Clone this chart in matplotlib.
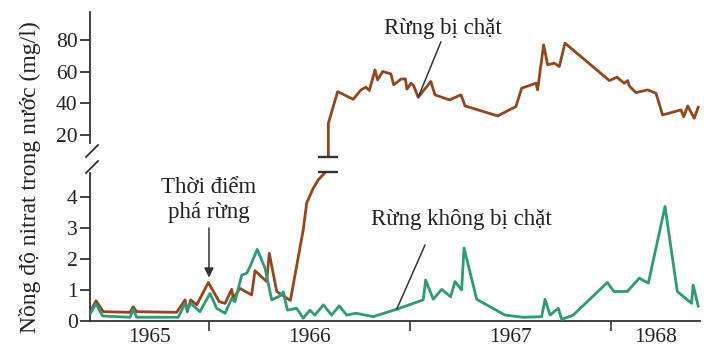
import matplotlib
matplotlib.use("Agg")
import matplotlib.pyplot as plt
from matplotlib.ticker import FixedLocator, NullFormatter, FixedFormatter

plt.rcParams['font.family'] = ['Liberation Serif', 'DejaVu Serif']

# Rừng bị chặt (deforested watershed): decimal year, nitrate mg/l
cut_x = [1965.405, 1965.438, 1965.474, 1965.607, 1965.623, 1965.640, 1965.839,
         1965.881, 1965.892, 1965.909, 1965.939, 1965.997, 1966.051, 1966.080,
         1966.113, 1966.121, 1966.154, 1966.212, 1966.229, 1966.287, 1966.300,
         1966.337, 1966.405, 1966.469, 1966.486, 1966.519, 1966.544, 1966.594,
         1966.594, 1966.640, 1966.718, 1966.756, 1966.781, 1966.798, 1966.826,
         1966.839, 1966.864, 1966.905, 1966.919, 1966.955, 1966.977, 1966.985,
         1967.005, 1967.018, 1967.041, 1967.104, 1967.124, 1967.196, 1967.254,
         1967.274, 1967.436, 1967.527, 1967.556, 1967.627, 1967.635, 1967.665,
         1967.685, 1967.718, 1967.743, 1967.771, 1967.992, 1968.030, 1968.066,
         1968.083, 1968.091, 1968.124, 1968.183, 1968.224, 1968.257, 1968.348,
         1968.362, 1968.382, 1968.414, 1968.434]
cut_y = [0.25, 0.65, 0.30, 0.28, 0.46, 0.30, 0.28,
         0.68, 0.30, 0.68, 0.52, 1.24, 0.62, 0.57,
         1.02, 0.73, 1.05, 0.84, 1.62, 1.27, 2.18,
         0.95, 0.66, 2.94, 3.80, 4.28, 4.55, 4.90,
         27.4, 47.3, 42.5, 48.4, 50.1, 48.0, 61.0,
         54.7, 60.0, 58.5, 51.6, 55.2, 55.4, 48.9,
         52.6, 51.1, 43.8, 53.7, 45.3, 42.1, 45.3,
         38.3, 32.0, 37.9, 49.5, 52.6, 48.4, 76.8,
         64.2, 65.3, 63.1, 77.9, 54.3, 56.4, 52.6,
         54.3, 50.9, 46.7, 48.4, 46.3, 32.6, 35.8,
         31.5, 38.3, 30.5, 37.5]

# Rừng không bị chặt (reference watershed)
ref_x = [1965.405, 1965.438, 1965.471, 1965.607, 1965.623, 1965.640, 1965.847,
         1965.881, 1965.892, 1965.909, 1965.955, 1966.005, 1966.038, 1966.080,
         1966.113, 1966.129, 1966.163, 1966.188, 1966.204, 1966.240, 1966.279,
         1966.312, 1966.353, 1966.370, 1966.390, 1966.436, 1966.469, 1966.502,
         1966.527, 1966.569, 1966.610, 1966.648, 1966.685, 1966.731, 1966.817,
         1966.934, 1967.066, 1967.078, 1967.116, 1967.158, 1967.202, 1967.224,
         1967.257, 1967.269, 1967.332, 1967.398, 1967.473, 1967.564, 1967.655,
         1967.672, 1967.697, 1967.738, 1967.755, 1967.812, 1967.982, 1968.015,
         1968.081, 1968.141, 1968.186, 1968.269, 1968.330, 1968.401, 1968.409,
         1968.434]
ref_y = [0.19, 0.55, 0.16, 0.12, 0.38, 0.12, 0.12,
         0.57, 0.35, 0.57, 0.30, 0.89, 0.41, 0.25,
         0.73, 0.62, 1.48, 1.54, 1.75, 2.31, 1.70,
         0.68, 0.81, 0.94, 0.35, 0.41, 0.09, 0.35,
         0.19, 0.52, 0.19, 0.49, 0.19, 0.25, 0.14,
         0.38, 0.68, 1.32, 0.70, 1.02, 0.78, 1.27,
         1.00, 2.35, 0.70, 0.46, 0.19, 0.12, 0.14,
         0.70, 0.19, 0.41, 0.05, 0.19, 1.24, 0.95,
         0.95, 1.38, 1.22, 3.69, 0.95, 0.57, 1.16,
         0.48]

year_labels = ['1965', '1966', '1967', '1968']
year_ticks = [1966, 1967, 1968]
x_lim = (1965.408, 1968.443)
upper_ticks = [20, 40, 60, 80]
lower_ticks = [0, 1, 2, 3, 4]
deforest_x = 1966.0
cut_break_x = 1966.594

BROWN = '#97451a'
GREEN = '#2a9d78'
TXT = '#222222'
FS = 15.5
AFS = 16.5

W, H = 722, 361
fig = plt.figure(figsize=(W / 100, H / 100), dpi=100)

def fx(px):
    return px / W

def fy(py):
    return 1 - py / H

left, right = 90, 700
ax_up = fig.add_axes([fx(left), fy(157), fx(right - left), fy(11.7) - fy(157)])
ax_lo = fig.add_axes([fx(left), fy(321), fx(right - left), fy(172) - fy(321)])

for ax in (ax_up, ax_lo):
    ax.plot(cut_x, cut_y, color=BROWN, lw=2.0)
    ax.set_xlim(*x_lim)
    ax.spines['top'].set_visible(False)
    ax.spines['right'].set_visible(False)
    ax.tick_params(axis='y', direction='out', length=7, width=1.2, labelsize=FS,
                   colors=TXT, pad=2)
    ax.spines['left'].set_color('#333333')
    ax.spines['left'].set_linewidth(1.3)
    ax.patch.set_alpha(0)

ax_lo.plot(ref_x, ref_y, color=GREEN, lw=2.0, zorder=3)

ax_up.set_ylim(6.1, 97.7)
ax_up.set_yticks(upper_ticks)
ax_up.spines['bottom'].set_visible(False)
ax_up.spines['left'].set_bounds(15, 97.7)
ax_up.set_xticks([])

ax_lo.set_ylim(0, 4.8)
ax_lo.set_yticks(lower_ticks)
ax_lo.spines['left'].set_bounds(0, 4.77)
ax_lo.spines['bottom'].set_color('#333333')
ax_lo.spines['bottom'].set_linewidth(1.3)
ax_lo.xaxis.set_major_locator(FixedLocator(year_ticks))
ax_lo.xaxis.set_major_formatter(NullFormatter())
label_pos = [(x_lim[0] + year_ticks[0]) / 2,
             (year_ticks[0] + year_ticks[1]) / 2,
             (year_ticks[1] + year_ticks[2]) / 2,
             (year_ticks[2] + x_lim[1]) / 2]
ax_lo.xaxis.set_minor_locator(FixedLocator(label_pos))
ax_lo.xaxis.set_minor_formatter(FixedFormatter(year_labels))
ax_lo.tick_params(axis='x', which='major', direction='out', length=7, width=1.2,
                  colors='#333333')
ax_lo.tick_params(axis='x', which='minor', length=0, labelsize=FS, colors=TXT, pad=5)

# break bars on the cut-forest line
ax_up.plot([cut_break_x], [6.1], marker='_', ms=15, mew=1.7, color='#333333',
           clip_on=False, zorder=4)
ax_lo.plot([cut_break_x], [4.8], marker='_', ms=15, mew=1.7, color='#333333',
           clip_on=False, zorder=4)

# axis break slashes
for cy in (151, 167):
    fig.add_artist(plt.Line2D([fx(86), fx(98)], [fy(cy + 6), fy(cy - 6)],
                              color='#333333', lw=1.3))

# y label
fig.text(fx(30), fy(177), 'Nồng độ nitrat trong nước (mg/l)', rotation=90,
         ha='center', va='center', fontsize=17, color=TXT)

line_kw = dict(arrowstyle='-', color='#333333', lw=1.1, shrinkA=0, shrinkB=0)

# Rừng bị chặt
ax_up.text(1967.165, 87.0, 'Rừng bị chặt', ha='center', va='center',
           fontsize=AFS, color=TXT)
ax_up.annotate('', xy=(1967.041, 43.8), xytext=(1967.154, 78.7),
               arrowprops=line_kw)

# Thời điểm phá rừng
ax_lo.text(deforest_x, 3.9, 'Thời điểm\nphá rừng', ha='center', va='center',
           fontsize=AFS, color=TXT, linespacing=1.3)
ax_lo.annotate('', xy=(deforest_x, 1.4), xytext=(deforest_x, 3.0),
               arrowprops=dict(arrowstyle='-|>', color='#333333', lw=1.1,
                               mutation_scale=14, shrinkA=0, shrinkB=0))

# Rừng không bị chặt
ax_lo.text(1967.254, 3.26, 'Rừng không bị chặt', ha='center', va='center',
           fontsize=AFS, color=TXT)
ax_lo.annotate('', xy=(1966.934, 0.38), xytext=(1967.075, 2.45),
               arrowprops=line_kw)

fig.savefig('out.png', dpi=100)
